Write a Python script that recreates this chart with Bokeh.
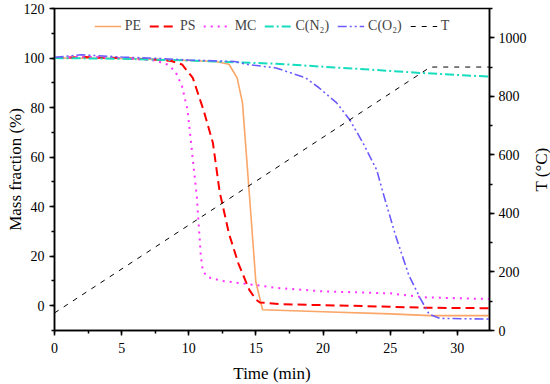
import math
from bokeh.plotting import figure
from bokeh.models import Range1d, LinearAxis, SingleIntervalTicker, Legend, LegendItem, Label
from bokeh.embed import file_html
from bokeh.resources import INLINE

# ---- data ----
t_pe = [0, 5, 10, 12, 13, 13.6, 14.0, 14.5, 15.0, 15.5, 20, 25, 28, 32.4]
pe = [100, 99.8, 99.0, 98.6, 97.5, 92, 82, 46, 9.5, -1.6, -2.4, -3.3, -4, -4]

t_ps = [0, 2, 5, 8, 8.7, 9.5, 10.3, 11.1, 11.8, 12.3, 13.0, 13.7, 14.5, 15.0, 15.3, 17, 22, 27.5, 32.4]
ps = [100, 100.4, 100, 99.2, 98.8, 97.4, 92, 79, 65.7, 46, 29, 17, 6.5, 2.5, 1.3, 0.6, 0, -0.8, -1.0]

t_mc = [0, 2, 5, 7.5, 8.4, 9.0, 9.5, 9.9, 10.15, 10.4, 10.6, 10.75, 10.9, 11.05, 11.4, 12.4, 13.4, 14.9, 16.5, 20, 25, 27.5, 32.4]
mc = [100, 100.6, 100, 99, 97.4, 94.7, 88.6, 79.2, 67, 54, 44, 32, 20, 14, 11.6, 10.1, 9.4, 8.4, 7.2, 5.8, 5.0, 3.4, 2.7]

t_cn2 = [0, 5, 10, 13, 16.5, 20, 25, 27.2, 32.4]
cn2 = [100, 99.7, 99.0, 98.4, 97.7, 96.5, 94.8, 94.0, 92.5]

t_co2 = [0, 1, 2, 3, 5, 7, 10, 13.4, 14.4, 16.5, 18.7, 19.7, 21.0, 22.0, 23.0, 24.0, 24.45, 25.4, 26.4, 27.2, 27.9, 28.7, 32.4]
co2 = [100.3, 100.8, 101.3, 101, 100.4, 100, 99.2, 98.6, 97.4, 96, 92, 88, 82, 75, 65.5, 54.8, 46, 28.4, 12.2, 3.4, -3.4, -5.1, -5.4]

t_T = [0, 28, 32.4]
temp = [60, 900, 900]

x_title = "Time (min)"
y_title = "Mass fraction (%)"
y2_title = "T (°C)"

FONT = "Liberation Serif"
W, H = 550, 384
BL, BR, BT, BB = 54, 61, 8, 54
FW, FH = W - BL - BR, H - BT - BB

p = figure(width=W, height=H, output_backend="svg", toolbar_location=None,
           x_range=Range1d(0, 32.4), y_range=Range1d(-10, 120),
           min_border_top=BT, min_border_left=BL, min_border_right=BR, min_border_bottom=BB)
p.extra_y_ranges = {"T": Range1d(0, 1100)}
p.grid.visible = False
p.outline_line_color = "black"
p.outline_line_width = 1.5
p.background_fill_color = "white"
p.border_fill_color = "white"

def style_axis(ax):
    ax.axis_line_color = "black"
    ax.axis_line_width = 1.5
    ax.major_tick_line_color = "black"
    ax.major_tick_line_width = 1.5
    ax.minor_tick_line_color = "black"
    ax.minor_tick_line_width = 1.5
    ax.major_tick_in = 0
    ax.major_tick_out = 5
    ax.minor_tick_in = 0
    ax.minor_tick_out = 3
    ax.major_label_text_font = FONT
    ax.major_label_text_font_size = "14px"
    ax.major_label_text_color = "black"

p.xaxis.ticker = SingleIntervalTicker(interval=5, num_minor_ticks=2)
p.yaxis.ticker = SingleIntervalTicker(interval=20, num_minor_ticks=2)
style_axis(p.xaxis[0])
style_axis(p.yaxis[0])
p.xaxis.major_label_standoff = 7
p.yaxis.major_label_standoff = 5

rax = LinearAxis(y_range_name="T",
                 ticker=SingleIntervalTicker(interval=200, num_minor_ticks=2))
style_axis(rax)
rax.major_label_standoff = 4
p.add_layout(rax, "right")

def title_label(text, x, y, angle, side):
    lab = Label(x=x, y=y, x_units="screen", y_units="screen", text=text, angle=angle,
                text_font=FONT, text_font_size="17px", text_color="black",
                text_align="center", text_baseline="middle")
    p.add_layout(lab, side)

title_label(x_title, FW / 2, 1, 0, "below")
title_label(y_title, 14, FH / 2, math.pi / 2, "left")
title_label(y2_title, 12, FH / 2, math.pi / 2, "right")

r_pe = p.line(t_pe, pe, line_color="#FBA566", line_width=1.6)
r_ps = p.line(t_ps, ps, line_color="#FF0000", line_width=2, line_dash="9 5")
r_mc = p.line(t_mc, mc, line_color="#FF33FF", line_width=2, line_dash="2 5")
r_cn2 = p.line(t_cn2, cn2, line_color="#16DDBE", line_width=2, line_dash="9 3 2 3")
r_co2 = p.line(t_co2, co2, line_color="#6B5BFF", line_width=1.6, line_dash="9 3 2 3 2 3")
r_T = p.line(t_T, temp, line_color="black", line_width=1, line_dash="5 6", y_range_name="T")

legend = Legend(items=[
    LegendItem(label="PE", renderers=[r_pe]),
    LegendItem(label="PS", renderers=[r_ps]),
    LegendItem(label="MC", renderers=[r_mc]),
    LegendItem(label="C(N₂)", renderers=[r_cn2]),
    LegendItem(label="C(O₂)", renderers=[r_co2]),
    LegendItem(label="T", renderers=[r_T]),
], orientation="horizontal", location="top_center")
legend.border_line_color = None
legend.background_fill_alpha = 0
legend.label_text_font = FONT
legend.label_text_font_size = "14px"
legend.glyph_width = 27
legend.label_standoff = 4
legend.label_width = 0
legend.spacing = 8
legend.padding = 0
legend.margin = 8
p.add_layout(legend, "center")

open("out.html", "w").write(file_html(p, INLINE))
